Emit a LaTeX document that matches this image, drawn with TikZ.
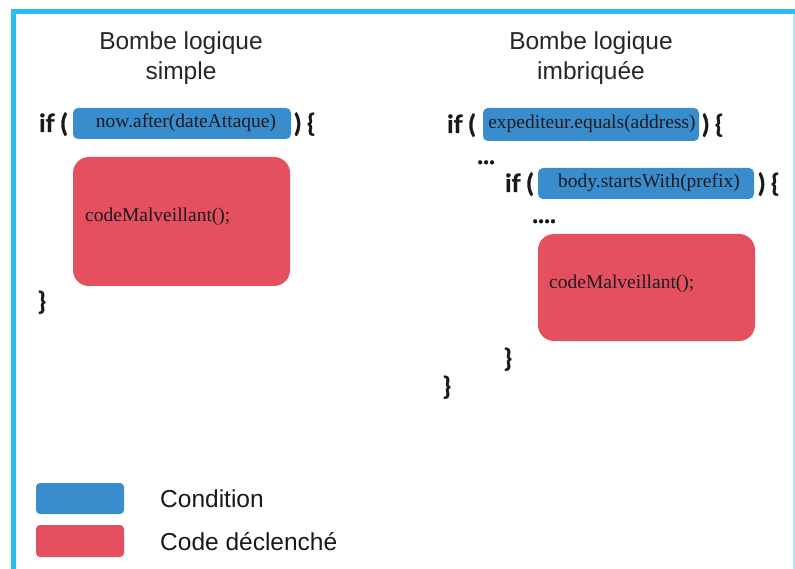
\documentclass[tikz,border=0pt]{standalone}
\usepackage{fontspec}
\setmainfont{Liberation Serif}
\newfontfamily\titlefont{Liberation Sans}
\newfontfamily\kwfont{Lato}[BoldFeatures={FakeBold=1.2}]
\definecolor{frameblue}{HTML}{2BBDEB}
\definecolor{framelight}{HTML}{B3E4F7}
\definecolor{condblue}{HTML}{3A8DCC}
\definecolor{codered}{HTML}{E5505E}
\definecolor{inktext}{HTML}{1E1A22}
\begin{document}
\begin{tikzpicture}[x=1pt,y=-1pt,
  title/.style={font=\titlefont\fontsize{24.5}{30}\selectfont, align=center, text=black!85},
  kw/.style={font=\kwfont\bfseries\fontsize{25}{28}\selectfont, anchor=base west, inner sep=0pt, text=black!90},
  code/.style={font=\fontsize{19.5}{22}\selectfont, inner sep=0pt, text=inktext},
  condbox/.style={fill=condblue, rounded corners=5pt},
  redbox/.style={fill=codered, rounded corners=16pt},
  legtext/.style={font=\titlefont\fontsize{24.5}{26}\selectfont, anchor=base west, inner sep=0pt, text=black!90}]
\useasboundingbox (0,0) rectangle (795,569);
\fill[white] (0,0) rectangle (795,569);
% frame
\fill[frameblue] (11,9) rectangle (795,14);
\fill[frameblue] (11,9) rectangle (16,569);
\fill[framelight] (792.5,14) rectangle (794.5,569);
% titles
\node[title] (t1) at (181,58) {Bombe logique\\simple};
\node[title] (t2) at (591,58) {Bombe logique\\imbriquée};
% left column
\node[kw] (if1) at (39,132) {if (};
\path[condbox] (73,108) rectangle (291,139);
\node[code, anchor=base] (c1) at (186,128) {now.after(dateAttaque)};
\node[kw] (cl1) at (294,132) {) \{};
\path[redbox] (73,157) rectangle (290,286);
\node[code, anchor=base west] (m1) at (85,222) {codeMalveillant();};
\node[kw] (e1) at (38,310) {\}};
% right column
\node[kw] (if2) at (447,133) {if (};
\path[condbox] (483,108) rectangle (699,141);
\node[code, anchor=base] (c2) at (592,129) {expediteur.equals(address)};
\node[kw] (cl2) at (702,133) {) \{};
\node[kw] (d1) at (477,164) {...};
\node[kw] (if3) at (505,192) {if (};
\path[condbox] (538,168) rectangle (754,199);
\node[code, anchor=base] (c3) at (649,188) {body.startsWith(prefix)};
\node[kw] (cl3) at (758,192) {) \{};
\node[kw] (d2) at (532,223) {....};
\path[redbox] (538,234) rectangle (755,341);
\node[code, anchor=base west] (m2) at (549,289) {codeMalveillant();};
\node[kw] (e2) at (504,367) {\}};
\node[kw] (e3) at (443,395) {\}};
% legend
\path[condbox, rounded corners=4pt] (36,483) rectangle (124,514);
\path[redbox, rounded corners=4pt] (36,525) rectangle (124,557);
\node[legtext] (l1) at (160,507) {Condition};
\node[legtext] (l2) at (160,550) {Code déclenché};
\end{tikzpicture}
\end{document}
